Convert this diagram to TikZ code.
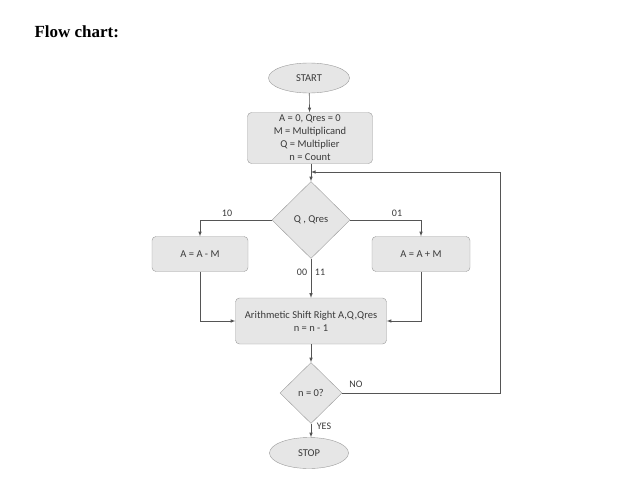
\documentclass[tikz,border=0pt]{standalone}
\usepackage{fontspec}
\setmainfont{Carlito}
\newfontfamily\titlefont{Liberation Serif}
\usepackage{tikz}
\usetikzlibrary{shapes.geometric, arrows}

\definecolor{boxfill}{HTML}{E6E6E6}
\definecolor{boxline}{HTML}{9A9A9A}
\definecolor{flowline}{HTML}{555555}
\definecolor{boxtext}{HTML}{3A3A3A}

\tikzset{
  terminal/.style={ellipse, draw=boxline, fill=boxfill, text=boxtext, minimum width=81pt, minimum height=30pt, inner sep=0pt, font=\fontsize{10.5}{12}\selectfont},
  process/.style={rectangle, rounded corners=4pt, draw=boxline, fill=boxfill, text=boxtext, align=center, inner sep=0pt, font=\fontsize{10.5}{13}\selectfont},
  decision/.style={diamond, draw=boxline, fill=boxfill, text=boxtext, inner sep=0pt, font=\fontsize{10.5}{12}\selectfont},
  flow/.style={draw=flowline, line width=0.6pt, -latex},
  link/.style={draw=flowline, line width=0.6pt},
  branch/.style={text=boxtext, font=\fontsize{10}{11}\selectfont}
}

\begin{document}
\begin{tikzpicture}[x=1pt, y=-1pt]
\useasboundingbox (0,0) rectangle (628,487);

\node[anchor=west, font=\titlefont\bfseries\fontsize{17}{20}\selectfont] (title) at (31,32) {Flow chart:};

\node[terminal] (start) at (309,78) {START};
\node[process, minimum width=125pt, minimum height=51pt] (init) at (310,138) {A = 0, Qres = 0\\M = Multiplicand\\Q = Multiplier\\n = Count};
\node[decision, minimum width=78pt, minimum height=77pt] (check) at (311,220) {Q , Qres};
\node[process, minimum width=96pt, minimum height=35pt] (subm) at (200,254) {A = A - M};
\node[process, minimum width=98pt, minimum height=35pt] (addm) at (421,254) {A = A + M};
\node[process, minimum width=151pt, minimum height=46pt] (shift) at (311,321) {Arithmetic Shift Right A,Q,Qres\\n = n - 1};
\node[decision, minimum width=62pt, minimum height=61pt] (count) at (311,393) {n = 0?};
\node[terminal, minimum width=79pt, minimum height=31pt] (stop) at (309,453) {STOP};

\coordinate (join) at (311,172);
\coordinate (loop) at (500,393);

\draw[flow] (start) -- (init);
\draw[flow] (init.south -| check.north) -- (check.north);
\draw[flow] (check.west) -| (subm.north);
\draw[flow] (check.east) -| (addm.north);
\draw[flow] (check.south) -- (shift.north);
\draw[flow] (subm.south) |- (shift.west);
\draw[flow] (addm.south) |- (shift.east);
\draw[flow] (shift.south) -- (count.north);
\draw[flow] (count.south) -- (stop.north -| count.south);
\draw[flow] (count.east) -- (loop) |- (join);

\node[branch] (ten) at (227,213) {10};
\node[branch] (oneo) at (397,213) {01};
\node[branch] (zz) at (302,272) {00};
\node[branch] (oo) at (320,272) {11};
\node[branch] (no) at (356,384) {NO};
\node[branch] (yes) at (324,426) {YES};
\end{tikzpicture}
\end{document}
